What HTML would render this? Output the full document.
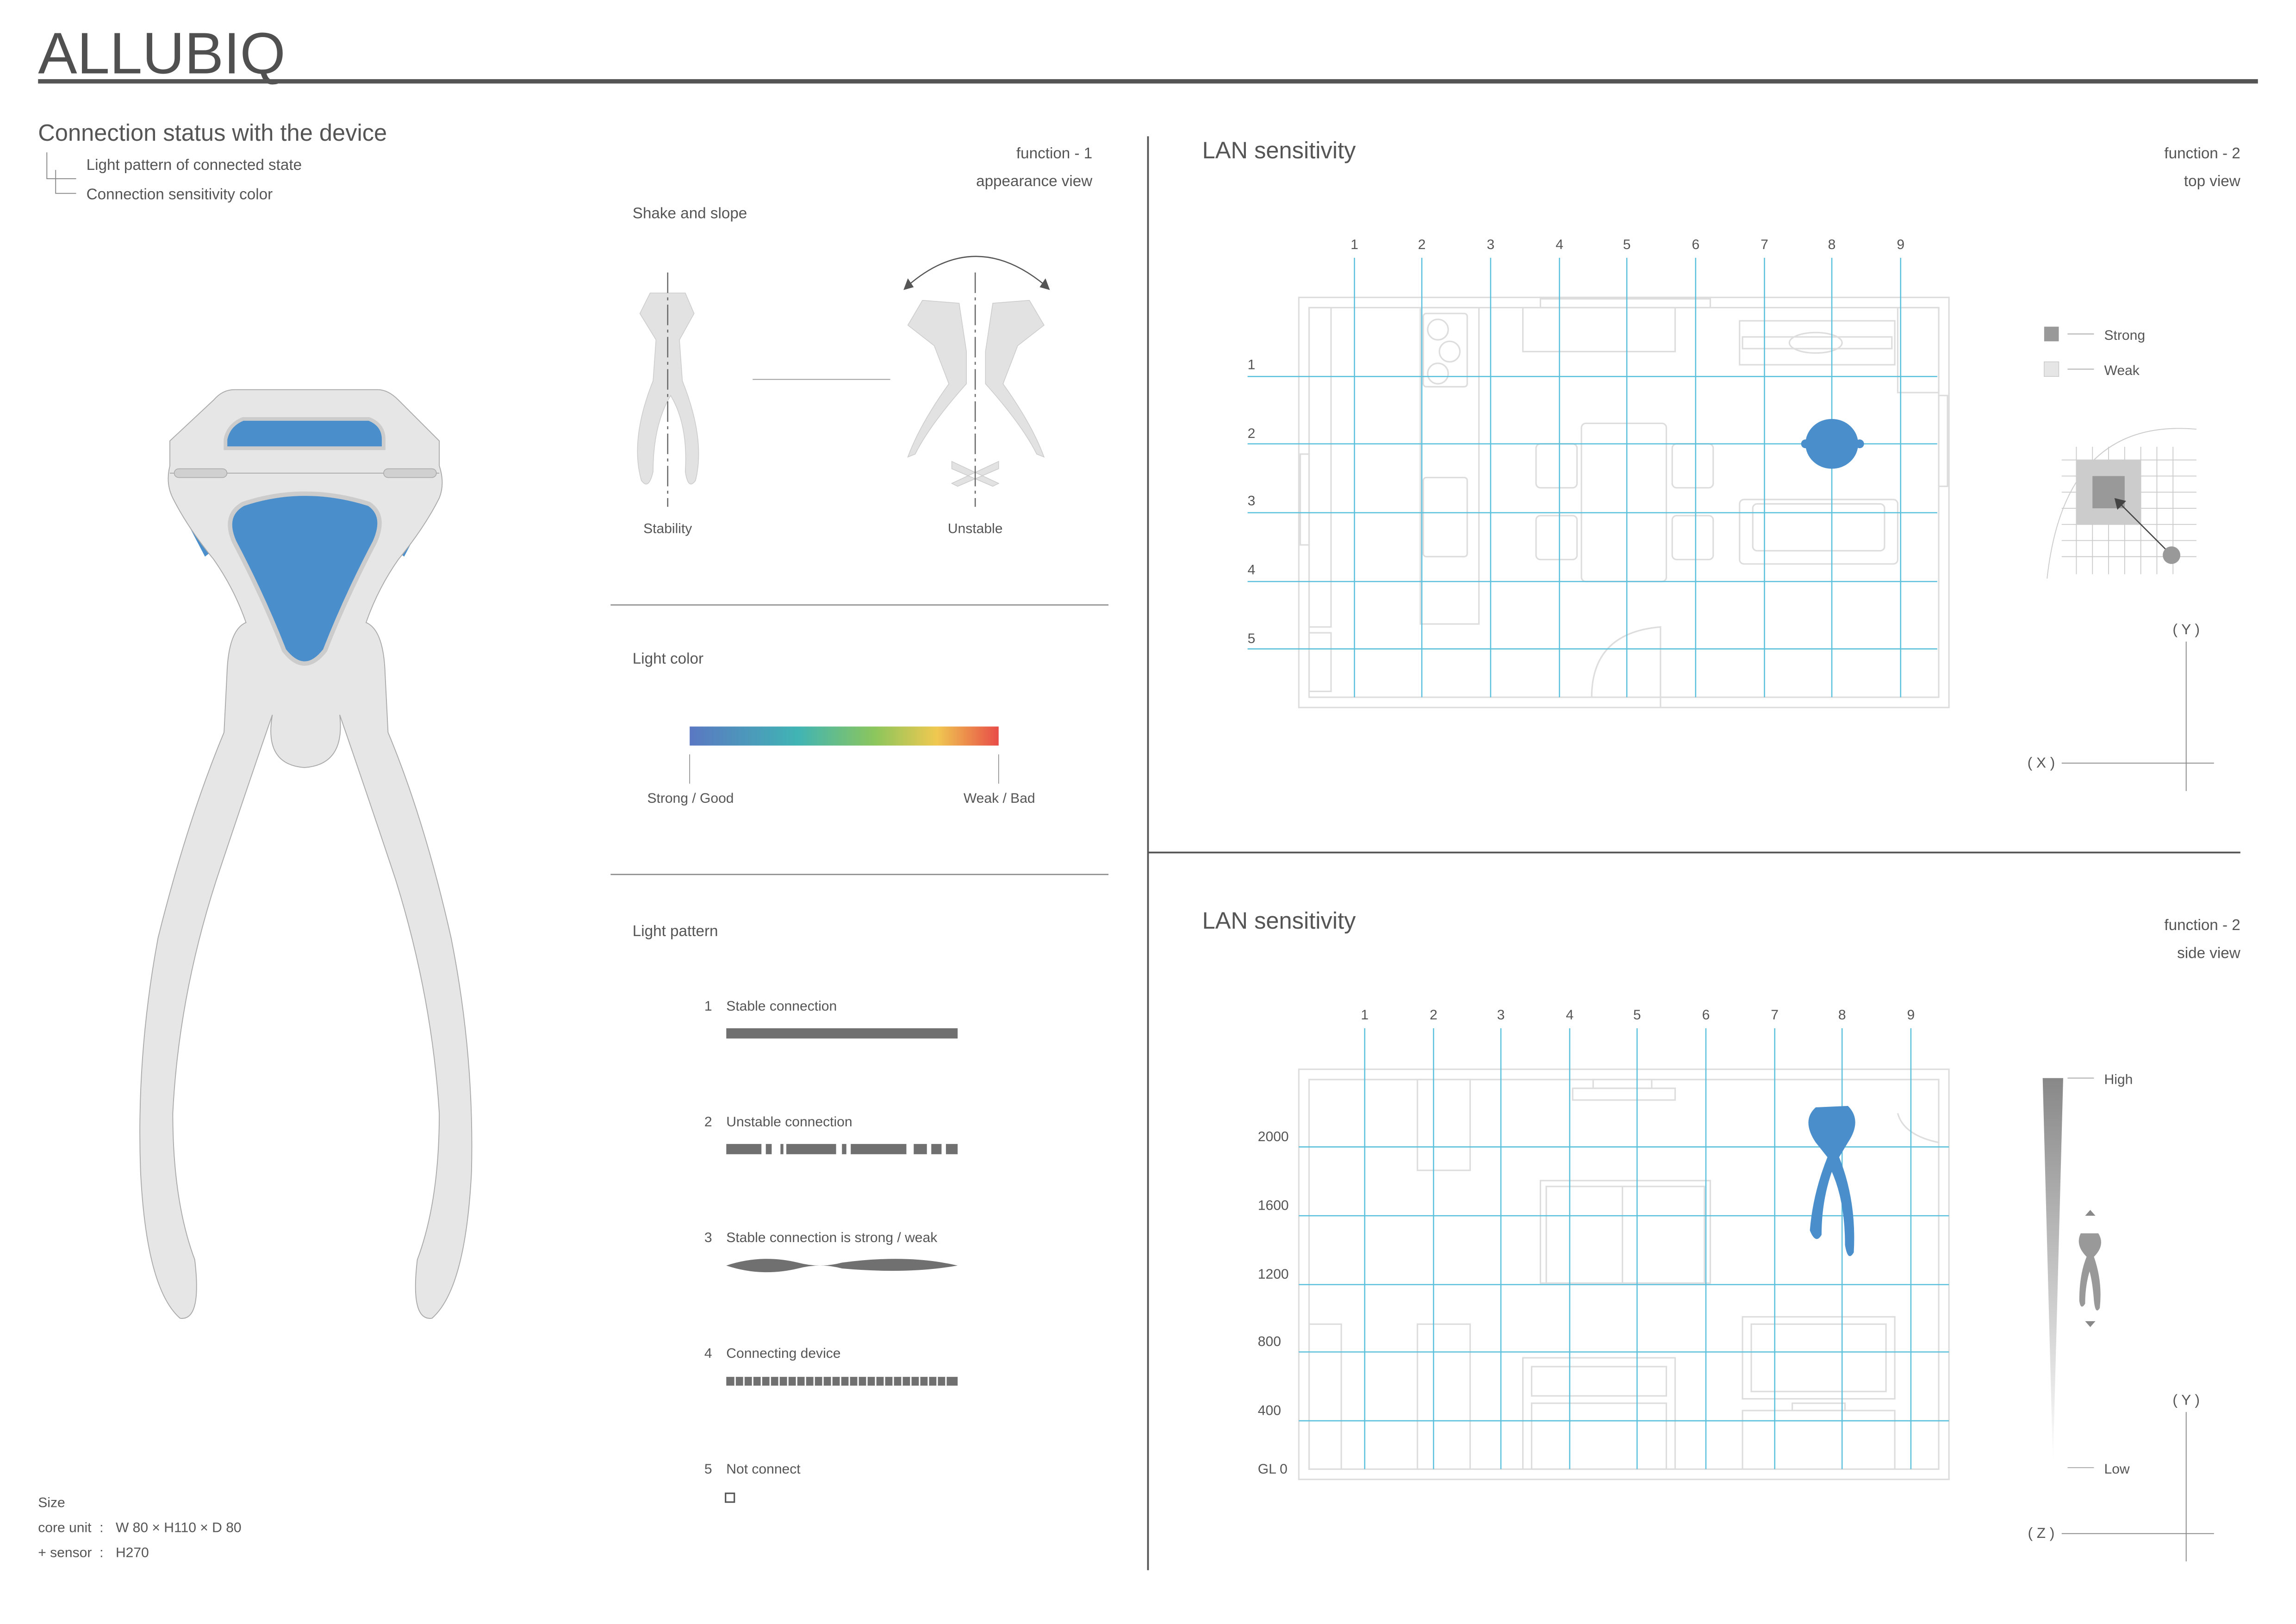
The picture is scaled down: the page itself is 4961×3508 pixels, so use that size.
<!DOCTYPE html>
<html><head><meta charset="utf-8"><style>
html,body{margin:0;padding:0;background:#fff;}
svg{display:block}
text{font-family:"Liberation Sans",sans-serif;fill:#555}
</style></head><body>
<svg width="4961" height="3508" viewBox="0 0 1568 1108.7" xmlns="http://www.w3.org/2000/svg">
<defs>
<linearGradient id="lc" x1="0" x2="1" y1="0" y2="0">
<stop offset="0" stop-color="#5a78c2"/><stop offset="0.35" stop-color="#40b4b4"/><stop offset="0.6" stop-color="#8cc65c"/><stop offset="0.8" stop-color="#f0c850"/><stop offset="1" stop-color="#e84c48"/></linearGradient>
<linearGradient id="hv" x1="0" x2="0" y1="0" y2="1"><stop offset="0" stop-color="#888"/><stop offset="1" stop-color="#fff"/></linearGradient>
</defs>
<rect width="1568" height="1109" fill="#fff"/>
<text x="26" y="50" font-size="40" style="fill:#505050">ALLUBIQ</text>
<rect x="26" y="54" width="1516" height="3" fill="#555"/>
<text x="26" y="96" font-size="16">Connection status with the device</text>
<path d="M32,104 V122 H52 M38,116 V132 H52" fill="none" stroke="#888" stroke-width="0.6"/>
<text x="59" y="116" font-size="10.5">Light pattern of connected state</text>
<text x="59" y="136" font-size="10.5">Connection sensitivity color</text>

<!-- device -->
<path d="M118,300 L128,290 L126,330 Z M298,300 L288,290 L290,330 Z M118,338 L150,372 L140,380 Z M298,338 L266,372 L276,380 Z" fill="#4a8fcc"/>
<path d="M160,266 L258,266 Q265,266 272,273 L300,301 L300,318 Q304,330 300,340 Q290,360 272,382 Q258,402 250,425 Q262,430 263,460 L265,500 Q290,560 308,640 Q324,720 322,800 Q318,880 295,900 Q280,902 285,860 Q300,820 300,760 Q295,680 270,600 Q250,540 232,488 Q236,522 208,524 Q180,522 186,488 Q168,540 148,600 Q122,680 118,760 Q118,820 133,860 Q138,902 123,900 Q100,880 96,800 Q93,720 108,640 Q128,560 153,500 L155,460 Q156,430 168,425 Q160,402 146,382 Q128,360 118,340 Q113,330 116,318 L116,301 L146,273 Q152,266 160,266 Z" fill="#e6e6e6" stroke="#aaa" stroke-width="0.6"/>
<line x1="116" y1="323" x2="300" y2="323" stroke="#aaa" stroke-width="0.6"/>
<rect x="119" y="320" width="36" height="6" rx="3" fill="#d0d0d0" stroke="#aaa" stroke-width="0.5"/>
<rect x="262" y="320" width="36" height="6" rx="3" fill="#d0d0d0" stroke="#aaa" stroke-width="0.5"/>
<path d="M166,286 H252 Q262,290 262,300 V306 H154 V300 Q156,290 166,286 Z" fill="#4a8fcc" stroke="#ccc" stroke-width="2.5"/>
<path d="M166,344 Q208,330 252,344 Q264,352 256,370 Q236,408 222,444 Q208,462 194,444 Q180,408 160,370 Q152,352 166,344 Z" fill="#4a8fcc" stroke="#ccc" stroke-width="3"/>

<!-- middle column -->
<text x="746" y="108" font-size="10.5" text-anchor="end">function - 1</text>
<text x="746" y="127" font-size="10.5" text-anchor="end">appearance view</text>
<text x="432" y="149" font-size="10.5">Shake and slope</text>
<g fill="#e2e2e2" stroke="#ccc" stroke-width="0.5">
<path d="M444,200 L468,200 L474,214 L464,232 L466,260 Q482,300 475,328 Q470,335 468,322 Q470,290 458,270 Q446,290 446,322 Q443,335 438,328 Q430,300 446,260 L448,232 L437,214 Z"/>
<path d="M630,205 L655,207 L660,240 L660,262 Q635,290 625,310 L620,312 Q628,290 648,262 L638,236 L620,222 Z"/>
<path d="M703,205 L678,207 L673,240 L673,262 Q698,290 708,310 L713,312 Q705,290 685,262 L695,236 L713,222 Z"/>
<path d="M650,315 L682,330 L678,332 L650,320 Z M682,315 L650,330 L654,332 L682,320 Z"/>
</g>
<line x1="456" y1="186" x2="456" y2="346" stroke="#666" stroke-width="0.8" stroke-dasharray="14,3,2,3"/>
<line x1="666" y1="186" x2="666" y2="346" stroke="#666" stroke-width="0.8" stroke-dasharray="14,3,2,3"/>
<line x1="514" y1="259" x2="608" y2="259" stroke="#999" stroke-width="0.6"/>
<path d="M620,195 Q666,155 714,195" fill="none" stroke="#555" stroke-width="0.8"/>
<path d="M617,198 L620,190 L624,196 Z M717,198 L714,190 L710,196 Z" fill="#555"/>
<text x="456" y="364" font-size="9.5" text-anchor="middle">Stability</text>
<text x="666" y="364" font-size="9.5" text-anchor="middle">Unstable</text>
<line x1="417" y1="413" x2="757" y2="413" stroke="#888" stroke-width="0.8"/>
<line x1="417" y1="597" x2="757" y2="597" stroke="#888" stroke-width="0.8"/>
<text x="432" y="453" font-size="10.5">Light color</text>
<rect x="471" y="496" width="211" height="13" fill="url(#lc)"/>
<line x1="471" y1="515" x2="471" y2="535" stroke="#888" stroke-width="0.5"/>
<line x1="682" y1="515" x2="682" y2="535" stroke="#888" stroke-width="0.5"/>
<text x="442" y="548" font-size="9.5">Strong / Good</text>
<text x="658" y="548" font-size="9.5">Weak / Bad</text>
<text x="432" y="639" font-size="10.5">Light pattern</text>
<g font-size="9.5">
<text x="481" y="690">1</text><text x="496" y="690">Stable connection</text>
<text x="481" y="769">2</text><text x="496" y="769">Unstable connection</text>
<text x="481" y="848">3</text><text x="496" y="848">Stable connection is strong / weak</text>
<text x="481" y="927">4</text><text x="496" y="927">Connecting device</text>
<text x="481" y="1006">5</text><text x="496" y="1006">Not connect</text>
</g>
<rect x="496" y="702" width="158" height="7" fill="#707070"/>
<g fill="#707070">
<rect x="496" y="781" width="24" height="7"/><rect x="523" y="781" width="4" height="7"/><rect x="533" y="781" width="2" height="7"/><rect x="537" y="781" width="34" height="7"/><rect x="575" y="781" width="3" height="7"/><rect x="581" y="781" width="38" height="7"/><rect x="624" y="781" width="9" height="7"/><rect x="636" y="781" width="7" height="7"/><rect x="646" y="781" width="8" height="7"/>
</g>
<path d="M496,864 Q520,856 545,862 Q560,866 575,862 Q620,856 654,864 Q620,870 575,866 Q560,862 545,866 Q520,872 496,864 Z" fill="#707070"/>
<rect x="496" y="940" width="158" height="6" fill="#707070"/>
<g stroke="#fff" stroke-width="1">
<path d="M502,940v6M508,940v6M514,940v6M520,940v6M526,940v6M532,940v6M538,940v6M544,940v6M550,940v6M556,940v6M562,940v6M568,940v6M574,940v6M580,940v6M586,940v6M592,940v6M598,940v6M604,940v6M610,940v6M616,940v6M622,940v6M628,940v6M634,940v6M640,940v6M646,940v6"/>
</g>
<rect x="495.5" y="1019.5" width="6" height="6" fill="none" stroke="#555" stroke-width="1"/>
<g font-size="9.5">
<text x="26" y="1029">Size</text>
<text x="26" y="1046">core unit</text><text x="68" y="1046">:</text><text x="79" y="1046">W 80 × H110 × D 80</text>
<text x="26" y="1063">+ sensor</text><text x="68" y="1063">:</text><text x="79" y="1063">H270</text>
</g>

<!-- dividers -->
<line x1="784" y1="93" x2="784" y2="1072" stroke="#555" stroke-width="1.2"/>
<line x1="784" y1="582" x2="1530" y2="582" stroke="#555" stroke-width="1.2"/>

<!-- top view -->
<text x="821" y="108" font-size="16">LAN sensitivity</text>
<text x="1530" y="108" font-size="10.5" text-anchor="end">function - 2</text>
<text x="1530" y="127" font-size="10.5" text-anchor="end">top view</text>
<g fill="none" stroke="#ddd" stroke-width="1">
<rect x="887" y="203" width="444" height="280"/>
<rect x="894" y="210" width="430" height="266"/>
<rect x="894" y="210" width="15" height="218"/><rect x="894" y="432" width="15" height="40"/>
<rect x="970" y="210" width="40" height="216"/><rect x="972" y="214" width="30" height="50" rx="2"/>
<circle cx="982" cy="225" r="7"/><circle cx="990" cy="240" r="7"/><circle cx="982" cy="255" r="7"/>
<rect x="972" y="326" width="30" height="54" rx="2"/>
<rect x="1040" y="210" width="104" height="30"/><rect x="1052" y="204" width="116" height="6"/>
<rect x="1188" y="219" width="106" height="30"/><rect x="1190" y="230" width="102" height="8"/><ellipse cx="1240" cy="234" rx="18" ry="7"/>
<rect x="1296" y="210" width="28" height="58"/>
<rect x="1080" y="289" width="58" height="108" rx="3"/>
<rect x="1049" y="303" width="28" height="30" rx="3"/><rect x="1049" y="352" width="28" height="30" rx="3"/>
<rect x="1142" y="303" width="28" height="30" rx="3"/><rect x="1142" y="352" width="28" height="30" rx="3"/>
<rect x="1188" y="341" width="108" height="44" rx="3"/><rect x="1197" y="344" width="90" height="32" rx="3"/>
<path d="M1087,476 Q1087,432 1134,428 V483"/>
<rect x="1324" y="270" width="6" height="62"/><rect x="888" y="310" width="6" height="62"/>
</g>
<g stroke="#5bc0dc" stroke-width="0.8">
<path d="M925,176V476M971,176V476M1018,176V476M1065,176V476M1111,176V476M1158,176V476M1205,176V476M1251,176V476M1298,176V476"/>
<path d="M852,257H1323M852,303H1323M852,350H1323M852,397H1323M852,443H1323"/>
</g>
<g font-size="9.5" text-anchor="middle">
<text x="925" y="170">1</text><text x="971" y="170">2</text><text x="1018" y="170">3</text><text x="1065" y="170">4</text><text x="1111" y="170">5</text><text x="1158" y="170">6</text><text x="1205" y="170">7</text><text x="1251" y="170">8</text><text x="1298" y="170">9</text>
</g>
<g font-size="9.5"><text x="852" y="252">1</text><text x="852" y="299">2</text><text x="852" y="345">3</text><text x="852" y="392">4</text><text x="852" y="439">5</text></g>
<ellipse cx="1251" cy="303" rx="18" ry="17" fill="#4a8fcc"/>
<circle cx="1233" cy="303" r="3" fill="#4a8fcc"/><circle cx="1270" cy="303" r="3" fill="#4a8fcc"/>
<rect x="1396" y="223" width="10" height="10" fill="#999"/>
<rect x="1396" y="247" width="10" height="10" fill="#e6e6e6" stroke="#ccc" stroke-width="0.5"/>
<line x1="1412" y1="228" x2="1430" y2="228" stroke="#999" stroke-width="0.5"/>
<line x1="1412" y1="252" x2="1430" y2="252" stroke="#999" stroke-width="0.5"/>
<text x="1437" y="232" font-size="9.5">Strong</text><text x="1437" y="256" font-size="9.5">Weak</text>
<rect x="1418" y="314" width="44" height="44" fill="#ccc"/>
<g stroke="#ccc" stroke-width="0.6" fill="none">
<path d="M1408,314H1500M1408,325H1500M1408,336H1500M1408,347H1500M1408,358H1500M1408,369H1500M1408,380H1500"/>
<path d="M1418,305V392M1429,305V392M1440,305V392M1451,305V392M1462,305V392M1473,305V392M1484,305V392"/>
<path d="M1500,293 Q1410,285 1398,395"/>
</g>
<rect x="1429" y="325" width="22" height="22" fill="#999"/>
<line x1="1446" y1="342" x2="1482" y2="378" stroke="#444" stroke-width="0.8"/>
<path d="M1444,340 L1452,342 L1446,348 Z" fill="#444"/>
<circle cx="1483" cy="379" r="6" fill="#999"/>
<text x="1493" y="433" font-size="10" text-anchor="middle">( Y )</text>
<line x1="1493" y1="438" x2="1493" y2="540" stroke="#888" stroke-width="0.6"/>
<line x1="1408" y1="521" x2="1512" y2="521" stroke="#888" stroke-width="0.6"/>
<text x="1394" y="524" font-size="10" text-anchor="middle">( X )</text>

<!-- side view -->
<text x="821" y="634" font-size="16">LAN sensitivity</text>
<text x="1530" y="635" font-size="10.5" text-anchor="end">function - 2</text>
<text x="1530" y="654" font-size="10.5" text-anchor="end">side view</text>
<g fill="none" stroke="#ddd" stroke-width="1">
<rect x="887" y="730" width="444" height="280"/>
<rect x="894" y="737" width="430" height="266"/>
<rect x="968" y="737" width="36" height="62"/><rect x="968" y="904" width="36" height="99"/>
<rect x="894" y="904" width="22" height="99"/>
<rect x="1074" y="743" width="70" height="8"/><rect x="1088" y="737" width="40" height="6"/>
<rect x="1052" y="806" width="116" height="70"/><rect x="1056" y="810" width="108" height="66"/><line x1="1108" y1="810" x2="1108" y2="876"/>
<rect x="1040" y="927" width="104" height="76"/><rect x="1046" y="933" width="92" height="20"/><rect x="1046" y="958" width="92" height="45"/>
<rect x="1190" y="899" width="104" height="56"/><rect x="1196" y="904" width="92" height="46"/>
<rect x="1190" y="963" width="104" height="40"/><rect x="1224" y="958" width="36" height="5"/>
<path d="M1296,760 Q1300,775 1324,780"/>
</g>
<g stroke="#5bc0dc" stroke-width="0.8">
<path d="M932,702V1003M979,702V1003M1025,702V1003M1072,702V1003M1118,702V1003M1165,702V1003M1212,702V1003M1258,702V1003M1305,702V1003"/>
<path d="M887,783H1331M887,830H1331M887,877H1331M887,923H1331M887,970H1331"/>
</g>
<g font-size="9.5" text-anchor="middle">
<text x="932" y="696">1</text><text x="979" y="696">2</text><text x="1025" y="696">3</text><text x="1072" y="696">4</text><text x="1118" y="696">5</text><text x="1165" y="696">6</text><text x="1212" y="696">7</text><text x="1258" y="696">8</text><text x="1305" y="696">9</text>
</g>
<g font-size="9.5"><text x="859" y="779">2000</text><text x="859" y="826">1600</text><text x="859" y="873">1200</text><text x="859" y="919">800</text><text x="859" y="966">400</text><text x="859" y="1006">GL 0</text></g>
<path d="M1240,756 L1262,755 Q1272,765 1262,780 L1256,790 Q1268,820 1266,855 Q1262,862 1260,850 Q1260,820 1251,800 Q1244,820 1244,843 Q1240,850 1236,840 Q1238,815 1248,790 L1240,780 Q1230,765 1240,756 Z" fill="#4a8fcc"/>
<path d="M1395,736 L1409,736 L1402,1000 Z" fill="url(#hv)"/>
<line x1="1412" y1="736" x2="1430" y2="736" stroke="#999" stroke-width="0.5"/>
<line x1="1412" y1="1002" x2="1430" y2="1002" stroke="#999" stroke-width="0.5"/>
<text x="1437" y="740" font-size="9.5">High</text><text x="1437" y="1006" font-size="9.5">Low</text>
<path d="M1424,830 L1431,830 L1427.5,826 Z" fill="#888"/>
<path d="M1424,902 L1431,902 L1427.5,906 Z" fill="#888"/>
<path d="M1421,842 L1433,842 Q1438,850 1430,858 Q1436,875 1434,893 Q1431,898 1430,888 Q1429,875 1427,868 Q1424,878 1424,890 Q1421,895 1420,888 Q1420,870 1425,858 Q1417,850 1421,842 Z" fill="#999"/>
<text x="1493" y="959" font-size="10" text-anchor="middle">( Y )</text>
<line x1="1493" y1="964" x2="1493" y2="1066" stroke="#888" stroke-width="0.6"/>
<line x1="1408" y1="1047" x2="1512" y2="1047" stroke="#888" stroke-width="0.6"/>
<text x="1394" y="1050" font-size="10" text-anchor="middle">( Z )</text>
</svg>
</body></html>
